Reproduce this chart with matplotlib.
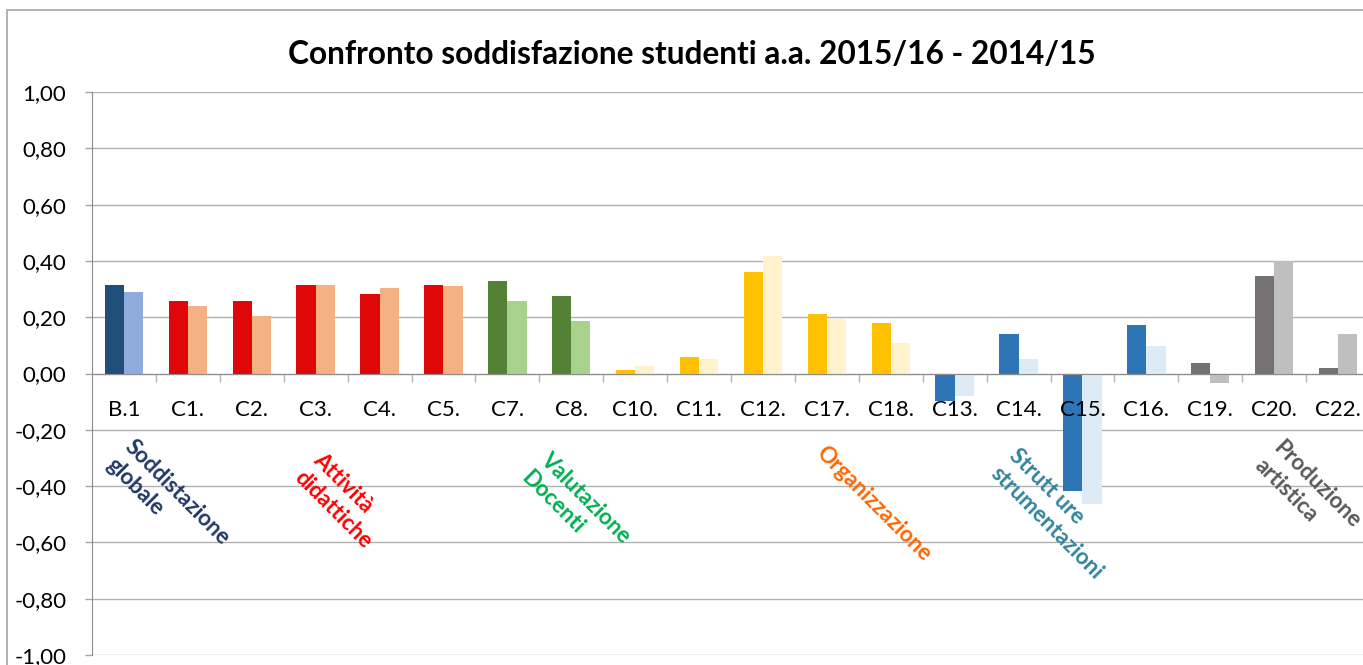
import matplotlib
matplotlib.use("Agg")
import matplotlib.pyplot as plt
from matplotlib.patches import Rectangle
from matplotlib.transforms import offset_copy
import numpy as np

plt.rcParams['font.family'] = ['Lato', 'DejaVu Sans']

# ---------------- data ----------------
categories = ['B.1', 'C1.', 'C2.', 'C3.', 'C4.', 'C5.', 'C7.', 'C8.', 'C10.', 'C11.',
              'C12.', 'C17.', 'C18.', 'C13.', 'C14.', 'C15.', 'C16.', 'C19.', 'C20.', 'C22.']
v_2015_16 = [0.316, 0.259, 0.259, 0.316, 0.281, 0.313, 0.327, 0.277, 0.014, 0.060,
             0.362, 0.213, 0.178, -0.098, 0.139, -0.416, 0.174, 0.039, 0.348, 0.018]
v_2014_15 = [0.288, 0.239, 0.205, 0.316, 0.302, 0.310, 0.256, 0.185, 0.028, 0.053,
             0.419, 0.192, 0.110, -0.080, 0.050, -0.462, 0.099, -0.034, 0.399, 0.139]
# group index for each category
group_of = [0, 1, 1, 1, 1, 1, 2, 2, 3, 3, 3, 3, 3, 4, 4, 4, 4, 5, 5, 5]
group_labels = ['Soddistazione\nglobale', 'Attività\ndidattiche', 'Valutazione\nDocenti',
                'Organizzazione', 'Strutt ure\nstrumentazioni', 'Produzione\nartistica']
yticks = [1.0, 0.8, 0.6, 0.4, 0.2, 0.0, -0.2, -0.4, -0.6, -0.8, -1.0]
title = 'Confronto soddisfazione studenti a.a. 2015/16 - 2014/15'

# ---------------- styles ----------------
dark_colors = ['#1F4E79', '#DF0707', '#548235', '#FFC000', '#2E75B6', '#767171']
light_colors = ['#8FAADC', '#F4B183', '#A9D18E', '#FFF2CC', '#DDEBF7', '#BFBFBF']
label_colors = ['#1F3864', '#FF0000', '#00B050', '#FF6600', '#31849B', '#595959']
# anchor (pixel) of each group label: top point of first line
label_anchor_px = [(136, 436), (324, 449), (551, 449), (827, 442), (1020, 445), (1284, 437)]

W, H = 1363, 665
fig = plt.figure(figsize=(W / 100, H / 100), dpi=100)

# chart area border
fig.patches.append(Rectangle((7 / W, -0.1), 1.2, 1 - 10 / H + 0.1, transform=fig.transFigure,
                             fill=False, edgecolor='#A6A6A6', linewidth=1.2))

ax = fig.add_axes([92 / W, 10 / H, 1278 / W, 563 / H])
x = np.arange(len(categories))
bw = 0.30
c_dark = [dark_colors[g] for g in group_of]
c_light = [light_colors[g] for g in group_of]
ax.bar(x - bw / 2, v_2015_16, width=bw, color=c_dark, zorder=3)
ax.bar(x + bw / 2, v_2014_15, width=bw, color=c_light, zorder=3)

ax.set_xlim(-0.5, len(categories) - 0.5)
ax.set_ylim(-1.0, 1.0)

ax.set_yticks(yticks)
ax.set_yticklabels([f"{v:.2f}".replace('.', ',') for v in yticks], fontsize=16)
ax.yaxis.grid(True, color='#B0B0B0', linewidth=1.0, zorder=0)
ax.tick_params(axis='y', length=5, width=1.0, color='#A6A6A6', pad=13.5)

ax.spines['top'].set_visible(False)
ax.spines['right'].set_visible(False)
ax.spines['left'].set_color('#8C8C8C')
ax.spines['bottom'].set_position(('data', 0))
ax.spines['bottom'].set_color('#8C8C8C')
ax.spines['bottom'].set_zorder(4)

# category labels drawn on top of bars
ax.set_xticks(x)
ax.set_xticklabels([])
ax.set_xticks(np.arange(0.5, len(categories) - 0.5), minor=True)
ax.tick_params(axis='x', which='major', length=0)
ax.tick_params(axis='x', which='minor', length=5.8, width=1.0, color='#B5B5B5', direction='out')
lab_tr = offset_copy(ax.transData, fig=fig, x=0, y=-26, units='dots')
for xi, c in zip(x, categories):
    ax.text(xi, 0, c, transform=lab_tr, ha='center', va='top', fontsize=16, zorder=6)

# title, fitted to width
t = fig.text(692 / W, 1 - 54 / H, title, ha='center', va='center', fontweight='bold', fontsize=20)
fig.canvas.draw()
r = fig.canvas.get_renderer()
w = t.get_window_extent(r).width
t.set_fontsize(20 * 810 / w)

for lab, col, (px, py) in zip(group_labels, label_colors, label_anchor_px):
    fig.text(px / W, 1 - py / H, lab, color=col, fontsize=16, fontweight='bold',
             rotation=-45, rotation_mode='anchor', ha='left', va='top',
             multialignment='left', linespacing=1.3)

fig.savefig('out.png', dpi=100)
